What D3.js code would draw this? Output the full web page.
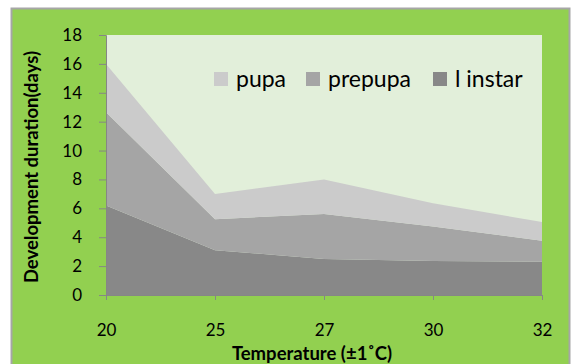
<!DOCTYPE html>
<html><head><meta charset="utf-8">
<script src="https://cdn.jsdelivr.net/npm/d3@7"></script>
<style>body{margin:0;background:#fff}svg{display:block}</style>
</head><body><svg id="c" width="571" height="364"></svg>
<script>
const temperatures = ["20","25","27","30","32"];
const instarI = [6.2, 3.1, 2.5, 2.35, 2.3];
const prepupa = [6.45, 2.15, 3.1, 2.4, 1.45];
const pupa = [3.35, 1.75, 2.4, 1.6, 1.3];
const seriesNames = ["l instar","prepupa","pupa"];
const yTicks = [0,2,4,6,8,10,12,14,16,18];
const colors = {"l instar":"#888888","prepupa":"#a5a5a5","pupa":"#cbcbcb"};

const rows = temperatures.map((t,i)=>({t, "l instar":instarI[i], prepupa:prepupa[i], pupa:pupa[i]}));
const svg = d3.select("#c");
const font = "Lato, 'Open Sans', sans-serif";

svg.append("rect").attr("x",11.5).attr("y",8.5).attr("width",558).attr("height",360)
  .attr("fill","#92d050").attr("stroke","#a6a6a6").attr("stroke-width",2);

const x = d3.scalePoint().domain(temperatures).range([106,542]).padding(0);
const y = d3.scaleLinear().domain([0,18]).range([295,35]);

svg.append("rect").attr("x",106).attr("y",35).attr("width",436).attr("height",260).attr("fill","#e2efda");

const stack = d3.stack().keys(seriesNames)(rows);
const area = d3.area().x(d=>x(d.data.t)).y0(d=>y(d[0])).y1(d=>y(d[1]));
svg.append("g").selectAll("path").data(stack).join("path")
  .attr("d",area).attr("fill",d=>colors[d.key]);

const yAxis = svg.append("g").attr("transform","translate(106,0)")
  .call(d3.axisLeft(y).tickValues(yTicks).tickSize(7).tickPadding(17).tickFormat(d3.format("d")));
const xAxis = svg.append("g").attr("transform","translate(0,295)")
  .call(d3.axisBottom(x).tickSize(5).tickPadding(24));
[yAxis,xAxis].forEach(g=>{
  g.select(".domain").attr("stroke","#868686");
  g.selectAll(".tick line").attr("stroke","#868686");
  g.selectAll(".tick text").attr("fill","#000").style("font-family",font).style("font-size","17px");
});

svg.append("text").attr("x",312).attr("y",360).attr("text-anchor","middle")
  .style("font-family",font).style("font-size","18.5px").style("font-weight","bold")
  .text("Temperature (±1˚C)");
svg.append("text").attr("transform","translate(38,167) rotate(-90)").attr("text-anchor","middle")
  .style("font-family",font).style("font-size","18.5px").style("font-weight","bold")
  .text("Development duration(days)");

const legendItems = [{k:"pupa",x:214},{k:"prepupa",x:306},{k:"l instar",x:433}];
const lg = svg.append("g");
legendItems.forEach(it=>{
  lg.append("rect").attr("x",it.x).attr("y",72).attr("width",14).attr("height",14).attr("fill",colors[it.k]);
  lg.append("text").attr("x",it.x+22).attr("y",87).style("font-family",font).style("font-size","23px")
    .attr("fill","#000").text(it.k);
});
</script></body></html>
